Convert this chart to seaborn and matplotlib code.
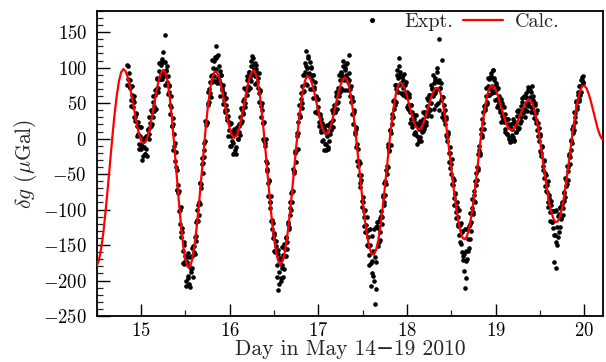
import numpy as np
import pandas as pd
import matplotlib
matplotlib.use("Agg")
import matplotlib.pyplot as plt
from matplotlib.lines import Line2D
from matplotlib.ticker import MultipleLocator
import seaborn as sns

# ---- data ----
calc_start = 14.5     # day
calc_step = 0.025     # day
calc_values = [
    -179.3, -171.4, -155.0, -132.5, -102.2, -69.3, -34.0, 0.7, 32.7, 59.6, 80.5, 93.5,
    98.0, 95.0, 86.4, 72.8, 56.2, 38.4, 21.4, 7.3, -2.7, -6.9,
    -5.0, 2.9, 16.0, 32.3, 50.4, 67.8, 82.3, 92.5, 96.9,
    93.6, 79.7, 56.5, 25.9, -10.1, -48.6, -86.9, -121.5, -150.5, -170.3, -180.6,
    -180.7, -171.5, -153.2, -127.7, -96.4, -61.8, -26.9, 9.4, 40.7, 66.5, 84.2, 93.6,
    94.3, 88.2, 76.8, 61.5, 44.6, 28.0, 14.2, 4.7, 1.0,
    3.6, 11.8, 24.9, 41.1, 58.0, 73.9, 86.4, 94.0,
    95.8, 89.3, 74.2, 51.5, 21.7, -11.6, -47.0, -82.0, -114.2, -141.2, -161.4, -173.7,
    -176.9, -171.3, -157.7, -136.5, -109.4, -78.9, -45.3, -11.9, 19.4, 46.1, 68.1, 81.9, 87.8,
    86.1, 79.1, 67.2, 52.7, 37.5, 23.7, 13.2, 7.6,
    7.7, 13.0, 22.9, 35.8, 50.4, 64.2, 75.4, 83.4, 86.0,
    82.2, 71.0, 53.0, 29.7, 1.7, -28.5, -59.3, -89.0, -115.5, -137.3, -153.5, -162.3,
    -163.6, -157.2, -143.6, -123.4, -97.4, -68.3, -37.6, -7.3, 21.4, 44.7, 63.4, 75.1, 79.0,
    76.6, 69.8, 59.6, 47.6, 35.1, 24.6, 16.6, 13.1,
    14.2, 19.3, 27.5, 38.1, 49.1, 59.3, 66.9, 71.4,
    71.4, 64.9, 51.9, 33.7, 10.4, -15.5, -42.7, -69.2, -94.1, -114.2, -129.8, -139.4,
    -142.0, -137.7, -126.6, -109.5, -87.5, -62.1, -34.6, -7.0, 18.4, 40.5, 58.5, 70.0, 74.8,
    73.7, 68.6, 60.3, 49.8, 38.6, 27.9, 19.1, 13.7,
    12.0, 13.8, 18.3, 25.1, 33.0, 41.1, 47.9, 52.8, 55.0,
    53.1, 45.8, 33.4, 16.6, -3.5, -25.3, -47.4, -68.7, -87.4, -102.3, -112.8, -117.7,
    -116.7, -109.5, -96.8, -78.8, -56.6, -33.3, -8.8, 14.8, 36.6, 54.3, 66.9, 73.8,
    74.6, 70.7, 62.8, 51.8, 39.1, 26.2, 14.3, 5.1, -0.6, -2.0,
]

# measured gravity, sampled every 0.01 day (two interleaved sample runs)
expt_start_a = 14.84
expt_start_b = 14.845
expt_step = 0.01
expt_values_a = [
    104, 84, 92, 73, 71, 55, 62, 44, 51, 30,
    36, 18, 24, 6, -8, 3, -14, -30, -4, -12,
    -22, 1, -15, 4, 12, 6, 22, 18, 38, 30,
    52, 46, 61, 68, 84, 72, 95, 84, 104, 90,
    112, 94, 108, 146, 96, 80, 88, 66, 75, 47,
    44, 18, 20, -10, -6, -40, -44, -72, -76, -102,
    -100, -131, -126, -158, -150, -176, -166, -207, -174, -196,
    -180, -209, -188, -166, -183, -152, -160, -138, -144, -114,
    -116, -90, -92, -62, -64, -36, -34, -6, -4, 24,
    22, 50, 47, 70, 64, 88, 80, 100, 88, 115,
    130, 98, 116, 86, 102, 78, 90, 68, 76, 54,
    60, 40, 48, 26, 32, 12, 20, 4, -10, 10,
    -6, -20, 6, -12, 10, 0, 18, 10, 30, 22,
    40, 34, 56, 50, 70, 62, 82, 74, 94, 84,
    102, 90, 114, 98, 106, 88, 98, 80, 86, 64,
    68, 46, 50, 22, 22, -4, -6, -32, -34, -62,
    -60, -90, -90, -116, -114, -140, -136, -160, -152, -178,
    -162, -214, -188, -170, -200, -178, -164, -184, -156, -166,
    -140, -146, -120, -124, -98, -100, -74, -74, -46, -46,
    -18, -18, 8, 8, 34, 30, 56, 50, 74, 66,
    90, 94, 123, 100, 116, 92, 108, 88, 100, 82,
    90, 70, 80, 60, 56, 36, 44, 24, 34, 10,
    22, -2, 16, -8, 10, -16, 4, -12, 18, 6,
    24, 16, 36, 26, 48, 38, 60, 50, 72, 60,
    82, 72, 94, 88, 102, 84, 100, 90, 106, 80,
    118, 82, 70, 52, 58, 34, 38, 10, 16, -12,
    -8, -38, -32, -62, -58, -88, -82, -110, -102, -132,
    -122, -150, -138, -164, -150, -208, -172, -190, -158, -200,
    -233, -212, -118, -126, -146, -112, -132, -102, -110, -82,
    -90, -60, -64, -38, -40, -12, -16, 12, 8, 34,
    30, 54, 48, 70, 76, 96, 86, 114, 90, 78,
    88, 72, 82, 64, 76, 58, 66, 48, 58, 38,
    48, 28, 38, 20, 28, 8, 22, 4, 18, -4,
    14, 2, 20, 10, 28, 16, 34, 24, 46, 32,
    54, 42, 62, 50, 70, 60, 78, 64, 82, 68,
    94, 80, 140, 72, 54, 111, 58, 36, 48, 20,
    28, 2, 10, -20, -12, -42, -36, -64, -56, -84,
    -78, -104, -96, -120, -110, -136, -122, -148, -130, -166,
    -186, -211, -197, -158, -170, -142, -154, -120, -130, -98,
    -106, -80, -88, -60, -66, -40, -44, -16, -20, 6,
    2, 28, 22, 46, 40, 60, 52, 74, 62, 84,
    70, 88, 74, 97, 82, 66, 78, 56, 70, 48,
    60, 40, 52, 32, 46, 24, 34, 14, 28, 6,
    20, 0, 18, -4, 14, 2, 22, -2, 24, 10,
    32, 14, 38, 22, 46, 30, 52, 36, 60, 42,
    64, 48, 68, 50, 72, 58, 66, 44, 60, 36,
    48, 26, 36, 12, 22, -4, 6, -20, -12, -38,
    -30, -56, -48, -74, -66, -90, -80, -104, -94, -118,
    -102, -126, -174, -136, -182, -124, -138, -106, -124, -98,
    -112, -90, -98, -76, -82, -58, -64, -40, -46, -22,
    -26, -2, -6, 18, 12, 36, 30, 52, 46, 62,
    56, 74, 66, 82, 88, 78,
]
expt_values_b = [
    76, 102, 75, 82, 46, 74, 55, 30, 60, 25,
    35, 4, 18, -15, 16, -9, 16, -10, -25, 1,
    -22, 3, -24, 14, -1, 30, 17, 40, 20, 60,
    39, 69, 42, 72, 86, 65, 107, 84, 108, 84,
    122, 88, 108, 76, 95, 102, 63, 74, 35, 60,
    18, 29, -16, 6, -32, -19, -73, -66, -74, -120,
    -97, -138, -132, -175, -145, -173, -201, -167, -194, -161,
    -205, -167, -184, -154, -195, -152, -163, -117, -137, -101,
    -94, -108, -63, -69, -28, -48, -16, -26, 25, 19,
    23, 65, 51, 80, 58, 89, 111, 81, 110, 81,
    114, 79, 118, 82, 95, 60, 89, 71, 49, 64,
    38, 57, 31, 40, 4, 23, -10, 22, -3, -21,
    14, -16, 6, -22, 16, -1, 20, 5, 43, 25,
    53, 36, 72, 45, 68, 88, 69, 94, 71, 109,
    81, 117, 92, 105, 77, 104, 92, 71, 92, 52,
    67, 30, 41, 0, 23, -10, 0, -45, -43, -81,
    -59, -98, -81, -128, -119, -159, -133, -159, -144, -195,
    -157, -205, -168, -196, -153, -183, -195, -148, -165, -139,
    -156, -118, -127, -89, -108, -77, -90, -43, -48, -20,
    -33, 4, -14, 24, 48, 32, 64, 43, 89, 67,
    107, 77, 103, 75, 113, 91, 70, 101, 70, 89,
    57, 73, 38, 59, 39, 56, 18, 32, 12, 27,
    -3, 19, -16, 12, -7, 19, -14, 19, -3, 22,
    12, 40, 16, 43, 38, 66, 42, 65, 51, 89,
    66, 93, 68, 109, 82, 97, 69, 105, 86, 68,
    92, 60, 74, 34, 53, 20, 40, 7, 13, -32,
    -15, -51, -35, -68, -51, -96, -89, -123, -101, -131,
    -111, -151, -129, -178, -127, -175, -137, -194, -127, -167,
    -124, -174, -123, -151, -116, -143, -109, -120, -80, -94,
    -63, -79, -44, -50, -8, -18, 12, -9, 29, 21,
    53, 42, 75, 52, 90, 65, 103, 75, 94, 64,
    87, 62, 91, 63, 80, 44, 64, 42, 63, 22,
    47, 17, 33, 6, 33, 10, 33, -8, 19, -1,
    25, -3, 22, 11, 38, 13, 38, 19, 57, 36,
    61, 41, 75, 32, 72, 89, 42, 86, 47, 100,
    50, 83, 40, 71, 78, 31, 59, 26, 41, 5,
    31, -4, 7, -33, -20, -50, -29, -65, -59, -94,
    -77, -112, -89, -123, -101, -145, -119, -160, -131, -171,
    -162, -127, -172, -127, -158, -123, -141, -105, -118, -85,
    -104, -74, -90, -48, -58, -21, -42, -11, -23, 14,
    5, 37, 13, 48, 43, 72, 49, 86, 62, 85,
    92, 64, 97, 67, 86, 54, 76, 44, 72, 52,
    38, 56, 24, 50, 27, 45, 10, 28, 7, 27,
    2, 19, -5, 21, 5, 28, -4, 21, 9, 39,
    16, 40, 15, 39, 25, 57, 37, 59, 31, 59,
    59, 39, 73, 46, 68, 38, 74, 43, 55, 29,
    50, 22, 41, 3, 15, -18, 3, -24, -10, -44,
    -31, -67, -51, -75, -60, -97, -84, -116, -88, -118,
    -102, -136, -102, -146, -100, -150, -109, -131, -97, -113,
    -92, -107, -75, -88, -55, -67, -39, -59, -24, -36,
    -4, -16, 14, 8, 38, 23, 53, 42, 65, 53,
    74, 62, 83, 87, 80,
]

x_ticks = [15, 16, 17, 18, 19, 20]
y_ticks = [-250, -200, -150, -100, -50, 0, 50, 100, 150]
x_label = "Day in May 14\u221219 2010"
y_label = r"$\delta g$ ($\mu$Gal)"
legend_labels = ["Expt.", "Calc."]

# ---- frames ----
calc_df = pd.DataFrame({"day": calc_start + calc_step * np.arange(len(calc_values)),
                        "g": calc_values})
expt_df = pd.concat([
    pd.DataFrame({"day": expt_start_a + expt_step * np.arange(len(expt_values_a)),
                  "g": expt_values_a}),
    pd.DataFrame({"day": expt_start_b + expt_step * np.arange(len(expt_values_b)),
                  "g": expt_values_b}),
], ignore_index=True)

sns.set_theme(style="ticks")
plt.rcParams["font.family"] = ["cmr10", "DejaVu Serif"]
plt.rcParams["mathtext.fontset"] = "cm"
plt.rcParams["axes.formatter.use_mathtext"] = True
plt.rcParams["axes.unicode_minus"] = True

fig = plt.figure(figsize=(6.06, 3.62), dpi=100)
ax = fig.add_axes([0.1596, 0.127, 0.8354, 0.843])

sns.scatterplot(data=expt_df, x="day", y="g", ax=ax, color="black", s=11,
                linewidth=0, legend=False, zorder=2)
sns.lineplot(data=calc_df, x="day", y="g", ax=ax, color="#ff0000", linewidth=1.6,
             legend=False, zorder=3)

ax.set_xlim(14.5, 20.21)
ax.set_ylim(-250, 180)
ax.set_xticks(x_ticks)
ax.set_yticks(y_ticks)
ax.xaxis.set_minor_locator(MultipleLocator(0.5))
ax.yaxis.set_minor_locator(MultipleLocator(10))
ax.tick_params(axis="both", which="major", direction="in", length=9, width=1.0,
               labelsize=13.5, colors="black")
ax.tick_params(axis="y", which="major", pad=7)
ax.tick_params(axis="x", which="major", pad=4)
ax.tick_params(axis="both", which="minor", direction="in", length=4.5, width=0.9)
ax.set_xlabel(x_label, fontsize=15.5, labelpad=0)
ax.set_ylabel(y_label, fontsize=15.5, labelpad=3)
for sp in ax.spines.values():
    sp.set_linewidth(1.3)
    sp.set_color("black")
    sp.set_visible(True)

handles = [
    Line2D([], [], marker="o", linestyle="none", color="black", markersize=2.6),
    Line2D([], [], color="#ff0000", linewidth=1.6),
]
ax.legend(handles, legend_labels, loc="upper right", bbox_to_anchor=(0.925, 1.01),
          ncol=2, frameon=False, fontsize=14.5, handlelength=2.0, handletextpad=0.6,
          columnspacing=0.5, borderaxespad=0.1, borderpad=0.15)

fig.savefig("out.png", dpi=100)
